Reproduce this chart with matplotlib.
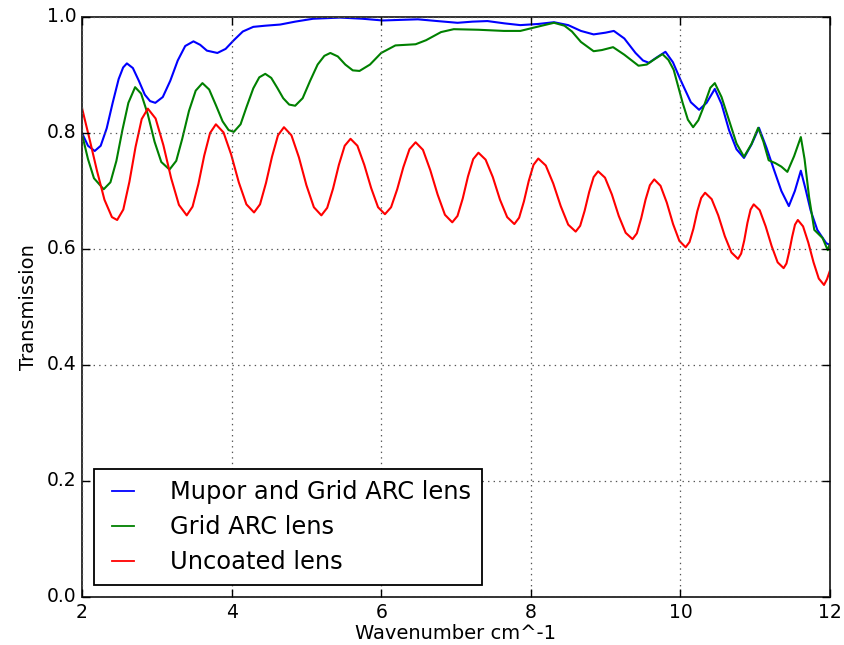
import matplotlib
matplotlib.use("Agg")
import matplotlib.pyplot as plt

# ---- data ----
wn_mupor = [2.00, 2.08, 2.17, 2.25, 2.33, 2.41, 2.49, 2.55, 2.60, 2.68, 2.76, 2.84, 2.91, 2.98,
            3.08, 3.18, 3.28, 3.38, 3.49, 3.58, 3.67, 3.81, 3.92, 4.03, 4.15, 4.29, 4.45, 4.65,
            4.85, 5.09, 5.45, 5.75, 6.02, 6.25, 6.49, 6.75, 7.02, 7.22, 7.42, 7.65, 7.86, 8.10,
            8.31, 8.50, 8.67, 8.84, 9.00, 9.11, 9.25, 9.40, 9.50, 9.58, 9.68, 9.80, 9.90, 10.00,
            10.14, 10.25, 10.35, 10.46, 10.55, 10.65, 10.75, 10.85, 10.95, 11.05, 11.15, 11.25,
            11.35, 11.45, 11.53, 11.61, 11.67, 11.74, 11.83, 11.95, 12.00]
tr_mupor = [0.800, 0.778, 0.769, 0.778, 0.808, 0.852, 0.893, 0.913, 0.920, 0.912, 0.890, 0.866,
            0.855, 0.852, 0.862, 0.890, 0.925, 0.950, 0.958, 0.952, 0.942, 0.938, 0.945, 0.960,
            0.975, 0.983, 0.985, 0.987, 0.992, 0.997, 0.999, 0.997, 0.994, 0.995, 0.996, 0.993,
            0.990, 0.992, 0.993, 0.989, 0.986, 0.988, 0.991, 0.986, 0.976, 0.970, 0.973, 0.976,
            0.963, 0.938, 0.925, 0.921, 0.930, 0.940, 0.922, 0.892, 0.853, 0.840, 0.852, 0.876,
            0.850, 0.805, 0.772, 0.757, 0.780, 0.809, 0.775, 0.737, 0.700, 0.674, 0.700, 0.735,
            0.705, 0.667, 0.633, 0.610, 0.607]

wn_grid = [2.00, 2.08, 2.16, 2.29, 2.38, 2.46, 2.54, 2.62, 2.71, 2.79, 2.88, 2.97, 3.06, 3.17,
           3.26, 3.34, 3.43, 3.52, 3.61, 3.70, 3.79, 3.88, 3.96, 4.03, 4.12, 4.20, 4.29, 4.37,
           4.45, 4.53, 4.61, 4.69, 4.77, 4.85, 4.95, 5.05, 5.15, 5.24, 5.32, 5.42, 5.52, 5.62,
           5.71, 5.85, 6.00, 6.19, 6.46, 6.60, 6.80, 6.97, 7.30, 7.64, 7.86, 8.05, 8.31, 8.45,
           8.55, 8.67, 8.84, 8.95, 9.10, 9.25, 9.44, 9.55, 9.64, 9.76, 9.84, 9.91, 10.03, 10.10,
           10.17, 10.24, 10.31, 10.40, 10.46, 10.55, 10.65, 10.75, 10.85, 10.95, 11.04, 11.11,
           11.18, 11.27, 11.35, 11.43, 11.52, 11.61, 11.66, 11.72, 11.79, 11.90, 11.97, 12.00]
tr_grid = [0.798, 0.755, 0.722, 0.703, 0.715, 0.752, 0.805, 0.852, 0.879, 0.868, 0.832, 0.785,
           0.750, 0.737, 0.752, 0.790, 0.838, 0.873, 0.886, 0.875, 0.848, 0.820, 0.805, 0.802,
           0.815, 0.845, 0.877, 0.896, 0.902, 0.895, 0.878, 0.860, 0.849, 0.847, 0.860, 0.890,
           0.918, 0.933, 0.938, 0.932, 0.918, 0.908, 0.907, 0.918, 0.938, 0.951, 0.953, 0.960,
           0.974, 0.979, 0.978, 0.976, 0.976, 0.982, 0.990, 0.985, 0.975, 0.957, 0.941, 0.943,
           0.948, 0.935, 0.916, 0.918, 0.926, 0.936, 0.926, 0.909, 0.852, 0.823, 0.810, 0.822,
           0.845, 0.878, 0.886, 0.862, 0.822, 0.782, 0.759, 0.781, 0.809, 0.785, 0.753, 0.748,
           0.742, 0.733, 0.760, 0.793, 0.755, 0.690, 0.633, 0.619, 0.598, 0.610]

wn_uncoated = [2.00, 2.10, 2.20, 2.30, 2.40, 2.47,
               2.552, 2.634, 2.716, 2.798, 2.88,
               2.984, 3.088, 3.192, 3.296, 3.40,
               3.478, 3.556, 3.634, 3.712, 3.79,
               3.892, 3.994, 4.096, 4.198, 4.30,
               4.38, 4.46, 4.54, 4.62, 4.70,
               4.80, 4.90, 5.00, 5.10, 5.20,
               5.278, 5.356, 5.434, 5.512, 5.59,
               5.682, 5.774, 5.866, 5.958, 6.05,
               6.132, 6.214, 6.296, 6.378, 6.46,
               6.558, 6.656, 6.754, 6.852, 6.95,
               7.02, 7.09, 7.16, 7.23, 7.30,
               7.396, 7.492, 7.588, 7.684, 7.78,
               7.844, 7.908, 7.972, 8.036, 8.10,
               8.20, 8.30, 8.40, 8.50, 8.60,
               8.66, 8.72, 8.78, 8.84, 8.90,
               8.992, 9.084, 9.176, 9.268, 9.36,
               9.418, 9.476, 9.534, 9.592, 9.65,
               9.734, 9.818, 9.902, 9.986, 10.07,
               10.122, 10.174, 10.226, 10.278, 10.33,
               10.418, 10.506, 10.594, 10.682, 10.77,
               10.812, 10.854, 10.896, 10.938, 10.98,
               11.06, 11.14, 11.22, 11.30, 11.38,
               11.418, 11.456, 11.494, 11.532, 11.57,
               11.64, 11.71, 11.78, 11.85, 11.92,
               11.96, 12.00]
tr_uncoated = [0.843, 0.790, 0.735, 0.685, 0.655, 0.650,
               0.668, 0.716, 0.776, 0.824, 0.842,
               0.825, 0.779, 0.722, 0.676, 0.658,
               0.673, 0.712, 0.761, 0.800, 0.815,
               0.801, 0.763, 0.715, 0.677, 0.663,
               0.677, 0.714, 0.759, 0.796, 0.810,
               0.796, 0.758, 0.710, 0.672, 0.658,
               0.671, 0.704, 0.745, 0.778, 0.790,
               0.778, 0.745, 0.705, 0.672, 0.660,
               0.672, 0.703, 0.741, 0.772, 0.784,
               0.771, 0.736, 0.694, 0.659, 0.646,
               0.657, 0.687, 0.725, 0.755, 0.766,
               0.754, 0.724, 0.685, 0.655, 0.643,
               0.654, 0.682, 0.717, 0.745, 0.756,
               0.744, 0.713, 0.674, 0.642, 0.630,
               0.640, 0.666, 0.698, 0.724, 0.734,
               0.723, 0.694, 0.657, 0.628, 0.617,
               0.627, 0.653, 0.685, 0.710, 0.720,
               0.709, 0.680, 0.643, 0.614, 0.603,
               0.612, 0.635, 0.665, 0.688, 0.697,
               0.686, 0.658, 0.622, 0.594, 0.583,
               0.592, 0.615, 0.645, 0.668, 0.677,
               0.667, 0.639, 0.605, 0.577, 0.567,
               0.575, 0.596, 0.621, 0.642, 0.650,
               0.639, 0.611, 0.577, 0.549, 0.538,
               0.548, 0.563]

labels = ["Mupor and Grid ARC lens", "Grid ARC lens", "Uncoated lens"]
x_ticks = [2, 4, 6, 8, 10, 12]
y_ticks = [0.0, 0.2, 0.4, 0.6, 0.8, 1.0]

# ---- plotting ----
plt.style.use("classic")
plt.rcParams["font.family"] = ["DejaVu Sans"]

fig = plt.figure(figsize=(8.45, 6.45), dpi=100, facecolor="white")
ax = fig.add_axes([82 / 845, 1 - 597 / 645, (830 - 82) / 845, (597 - 17) / 645])
ax.set_facecolor("white")

ax.plot(wn_mupor, tr_mupor, color="b", lw=1.5, label=labels[0],
        solid_joinstyle="round")
ax.plot(wn_grid, tr_grid, color="g", lw=1.5, label=labels[1],
        solid_joinstyle="round")
ax.plot(wn_uncoated, tr_uncoated, color="r", lw=1.5, label=labels[2],
        solid_joinstyle="round")

ax.set_xlim(2, 12)
ax.set_ylim(0, 1.0)
ax.set_xticks(x_ticks)
ax.set_yticks(y_ticks)
ax.set_xticklabels([str(t) for t in x_ticks])
ax.set_yticklabels([f"{t:.1f}" for t in y_ticks])
ax.tick_params(labelsize=13.5, direction="in", top=True, right=True, length=6, width=1)
ax.grid(True, linestyle=":", color="#555555", linewidth=0.9)
for sp in ax.spines.values():
    sp.set_linewidth(1.4)
    sp.set_color("#333333")

ax.set_xlabel("Wavenumber cm^-1", fontsize=14, labelpad=2)
ax.set_ylabel("Transmission", fontsize=14, labelpad=6)

leg = ax.legend(loc="lower left", fontsize=17.4, handlelength=1.5, handletextpad=1.2,
                borderaxespad=0.5, fancybox=False, framealpha=1, numpoints=2,
                labelspacing=0.45, borderpad=0.45)
leg.get_frame().set_edgecolor("black")
leg.get_frame().set_linewidth(1.3)
for line in leg.get_lines():
    line.set_linewidth(1.3)

fig.savefig("out.png", dpi=100, facecolor="white")
